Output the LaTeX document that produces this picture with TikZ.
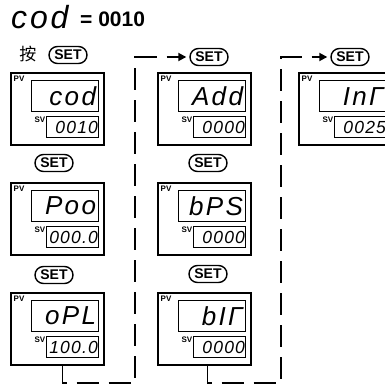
\documentclass[tikz,border=0pt]{standalone}
\usepackage{fontspec}
\setmainfont{Liberation Sans}
\newfontfamily\cjk{Noto Sans CJK SC}
\newfontfamily\segf{Liberation Sans}[LetterSpace=9]
\newfontfamily\segs{Liberation Sans}[LetterSpace=7]
\usetikzlibrary{shapes.misc,arrows.meta}

\tikzset{
 panel/.style={draw, line width=1.8pt, minimum width=93pt, minimum height=72pt, anchor=north west, inner sep=0pt, outer sep=0pt},
 pvbox/.style={draw, line width=1.2pt, minimum width=67pt, minimum height=31pt, anchor=north west, inner sep=0pt},
 svbox/.style={draw, line width=1.2pt, minimum width=52pt, minimum height=21pt, anchor=north west, inner sep=0pt},
 lab/.style={inner sep=0pt, font=\fontsize{8}{8}\selectfont\bfseries},
 pvtext/.style={inner sep=0pt, anchor=east, font=\segf\itshape\fontsize{26}{26}\selectfont},
 svtext/.style={inner sep=0pt, anchor=east, font=\segs\itshape\fontsize{17.5}{17.5}\selectfont},
 setkey/.style={draw, rounded rectangle, line width=1.4pt, minimum width=38pt, minimum height=17pt, inner sep=0pt, font=\fontsize{14}{14}\selectfont\bfseries},
 conn/.style={line width=1.8pt, dash pattern=on 22pt off 10pt, shorten >=3pt, -{Triangle[length=8pt,width=8pt]}},
}

\newcommand\dpanel[5]{%
 \begin{scope}[shift={(#2,#3)}]
  \node[panel] (#1) at (0,0) {};
  \node[pvbox] (#1pv) at (20,7) {};
  \node[svbox] (#1sv) at (35,43) {};
  \node[lab, anchor=north west] (#1pvl) at (2.5,3) {PV};
  \node[lab, anchor=north east] (#1svl) at (34.5,44) {SV};
  \node[pvtext] (#1pvt) at ([xshift=-3pt]#1pv.east) {#4};
  \node[svtext] (#1svt) at ([xshift=-1pt]#1sv.east) {#5};
 \end{scope}}

\begin{document}
\begin{tikzpicture}[x=1pt,y=-1pt]
\useasboundingbox (0,0) rectangle (385,388);

% title
\node[inner sep=0pt, anchor=base west, font=\segf\itshape\fontsize{32}{32}\selectfont] (tcod) at (11,28) {cod};
\node[inner sep=0pt, anchor=base west, font=\fontsize{21}{21}\selectfont\bfseries] (tval) at (80,27) {= 0010};

% keys
\node[inner sep=0pt, font=\cjk\fontsize{17}{17}\selectfont] (an) at (28,54) {按};
\node[setkey] (set11) at (68,55) {SET};
\node[setkey] (set21) at (209,57) {SET};
\node[setkey] (set31) at (350,57) {SET};
\node[setkey] (set12) at (54,163) {SET};
\node[setkey] (set22) at (208,163) {SET};
\node[setkey] (set13) at (54,275) {SET};
\node[setkey] (set23) at (208,274) {SET};

% panels
\dpanel{p11}{11}{73}{cod}{0010}
\dpanel{p12}{11}{183}{Poo}{000.0}
\dpanel{p13}{11}{293}{oPL}{100.0}
\dpanel{p21}{158}{73}{Add}{0000}
\dpanel{p22}{158}{183}{bPS}{0000}
\dpanel{p23}{158}{293}{bIΓ}{0000}
\dpanel{p31}{299}{73}{InΓ}{0025}

% connectors
\coordinate (c1) at (135,383);
\coordinate (c2) at (281,383);
\draw[conn] ([xshift=5pt]p13.south) |- (c1) |- (set21.west);
\draw[conn] ([xshift=3pt]p23.south) |- (c2) |- (set31.west);
\end{tikzpicture}
\end{document}
